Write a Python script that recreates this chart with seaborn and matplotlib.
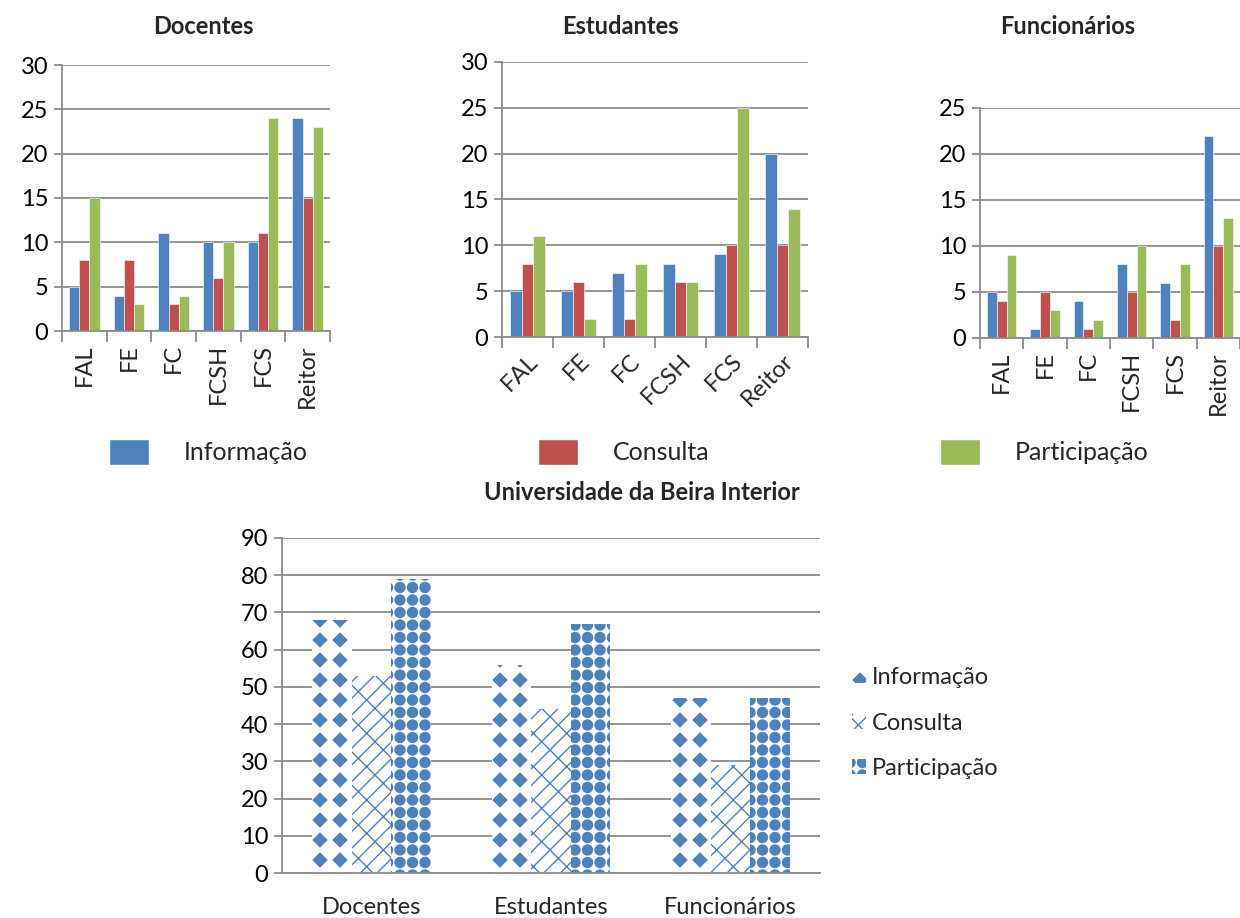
import numpy as np
import pandas as pd
import seaborn as sns
import matplotlib.pyplot as plt
import matplotlib.hatch as mhatch
from matplotlib.path import Path
from matplotlib.patches import Patch

# ---------------------------------------------------------------- data
units = ["FAL", "FE", "FC", "FCSH", "FCS", "Reitor"]
levels = ["Informação", "Consulta", "Participação"]

docentes_inf = [5, 4, 11, 10, 10, 24]
docentes_con = [8, 8, 3, 6, 11, 15]
docentes_par = [15, 3, 4, 10, 24, 23]

estudantes_inf = [5, 5, 7, 8, 9, 20]
estudantes_con = [8, 6, 2, 6, 10, 10]
estudantes_par = [11, 2, 8, 6, 25, 14]

funcionarios_inf = [5, 1, 4, 8, 6, 22]
funcionarios_con = [4, 5, 1, 5, 2, 10]
funcionarios_par = [9, 3, 2, 10, 8, 13]

groups = ["Docentes", "Estudantes", "Funcionários"]
ubi_inf = [68, 56, 47]
ubi_con = [53, 44, 29]
ubi_par = [79, 67, 47]

BLUE, RED, GREEN = "#4F81BD", "#C0504D", "#9BBB59"
GRID = "#8C8C8C"


# ---------------------------------------------------------------- fill patterns
class _GridShapes(mhatch.HatchPatternBase):
    """Shapes laid out on a square grid inside the hatch tile."""
    char = None
    per_inch = 5
    size = 0.3
    path = None

    def __init__(self, hatch, density):
        self.n = hatch.count(self.char) * self.per_inch
        k = len(self.path.vertices)
        self.num_vertices = (self.n + 1) ** 2 * k if self.n else 0

    def set_vertices_and_codes(self, vertices, codes):
        step = 1.0 / self.n
        sv = self.path.vertices * step * self.size
        k = len(sv)
        cur = 0
        for i in range(self.n + 1):
            for j in range(self.n + 1):
                vertices[cur:cur + k] = sv + (i * step, j * step)
                codes[cur:cur + k] = self.path.codes
                cur += k


class DiamondGrid(_GridShapes):
    char = "."
    per_inch = 5
    size = 0.34
    path = Path.unit_regular_polygon(4)


class DotGrid(_GridShapes):
    char = "o"
    per_inch = 8
    size = 0.40
    path = Path.unit_circle()


mhatch._hatch_types = [t for t in mhatch._hatch_types
                       if t not in (mhatch.SmallFilledCircles, mhatch.SmallCircles)]
mhatch._hatch_types += [DiamondGrid, DotGrid]

# ---------------------------------------------------------------- style
sns.set_style("white")
plt.rcParams["font.family"] = ["Lato", "DejaVu Sans"]
plt.rcParams["hatch.color"] = BLUE
plt.rcParams["hatch.linewidth"] = 1.0

fig = plt.figure(figsize=(12.4, 9.18), dpi=100)
W, H = 1240, 918


def frac(x0, y0, x1, y1):
    return [x0 / W, 1 - y1 / H, (x1 - x0) / W, (y1 - y0) / H]


def style_axes(ax, ymax, step, tick_fs=17):
    ax.set_ylim(0, ymax)
    ax.set_yticks(np.arange(0, ymax + 1, step))
    ax.yaxis.grid(True, color=GRID, linewidth=1.3)
    ax.set_axisbelow(True)
    for s in ["top", "right"]:
        ax.spines[s].set_visible(False)
    for s in ["left", "bottom"]:
        ax.spines[s].set_color(GRID)
        ax.spines[s].set_linewidth(1.3)
    ax.tick_params(axis="y", left=True, length=6, width=1.3, color=GRID,
                   labelsize=tick_fs, pad=4, labelcolor="black")
    ax.set_xlabel("")
    ax.set_ylabel("")


def unit_frame(inf, con, par):
    return pd.DataFrame({
        "unidade": units * 3,
        "nivel": [levels[0]] * 6 + [levels[1]] * 6 + [levels[2]] * 6,
        "valor": list(inf) + list(con) + list(par),
    })


panels = [
    ("Docentes", (docentes_inf, docentes_con, docentes_par), (62, 65, 330, 331), 30, 90, 203),
    ("Estudantes", (estudantes_inf, estudantes_con, estudantes_par), (502, 62, 808, 337), 30, 45, 620),
    ("Funcionários", (funcionarios_inf, funcionarios_con, funcionarios_par), (980, 108, 1240, 338), 25, 90, 1068),
]

for title, series, box, ymax, rot, tx in panels:
    ax = fig.add_axes(frac(*box))
    sns.barplot(data=unit_frame(*series), x="unidade", y="valor", hue="nivel",
                hue_order=levels, palette=[BLUE, RED, GREEN], width=0.68,
                saturation=1, edgecolor="white", linewidth=0.4, ax=ax, legend=False)
    style_axes(ax, ymax, 5)
    ax.set_xlim(-0.5, len(units) - 0.5)
    ax.set_xticks(np.arange(len(units)))
    ax.set_xticks(np.arange(len(units) + 1) - 0.5, minor=True)
    ax.tick_params(axis="x", which="major", bottom=False, labelsize=17, pad=6)
    ax.tick_params(axis="x", which="minor", bottom=True, length=8, width=1.3, color=GRID)
    if rot == 90:
        ax.set_xticklabels(units, rotation=90, va="top")
    else:
        ax.set_xticklabels(units, rotation=45, ha="right", rotation_mode="anchor")
    fig.text(tx / W, 1 - 27 / H, title, ha="center", va="center",
             fontsize=17, fontweight="bold")

fig.legend(handles=[Patch(facecolor=c) for c in (BLUE, RED, GREEN)], labels=levels,
           loc="center left", bbox_to_anchor=(109 / W, 1 - 452 / H), ncol=3,
           frameon=False, fontsize=18, handlelength=1.6, handleheight=1.2,
           handletextpad=1.4, columnspacing=9.2, borderpad=0, borderaxespad=0)

# ---------------------------------------------------------------- overall chart
ubi = pd.DataFrame({
    "grupo": groups * 3,
    "nivel": [levels[0]] * 3 + [levels[1]] * 3 + [levels[2]] * 3,
    "valor": ubi_inf + ubi_con + ubi_par,
})
ax = fig.add_axes(frac(282, 538, 820, 873))
sns.barplot(data=ubi, x="grupo", y="valor", hue="nivel", hue_order=levels,
            palette=["white"] * 3, width=0.66, saturation=1, ax=ax, legend=False)
hatches = [".", "//\\", "o"]
for cont, h in zip(ax.containers, hatches):
    for bar in cont:
        bar.set_hatch(h)
        bar.set_edgecolor(BLUE)
        bar.set_linewidth(0)
style_axes(ax, 90, 10)
ax.tick_params(axis="x", bottom=False, labelsize=17, pad=14)

handles = [Patch(facecolor="white", edgecolor=BLUE, linewidth=0, hatch=h) for h in hatches]
fig.legend(handles=handles, labels=levels, loc="center left",
           bbox_to_anchor=(852 / W, 1 - 723 / H), frameon=False, fontsize=17,
           handlelength=0.6, handleheight=0.6, handletextpad=0.25,
           labelspacing=1.05, borderpad=0, borderaxespad=0)
fig.text(642 / W, 1 - 492 / H, "Universidade da Beira Interior", ha="center",
         va="center", fontsize=17, fontweight="bold")

fig.savefig("out.png", dpi=100)
